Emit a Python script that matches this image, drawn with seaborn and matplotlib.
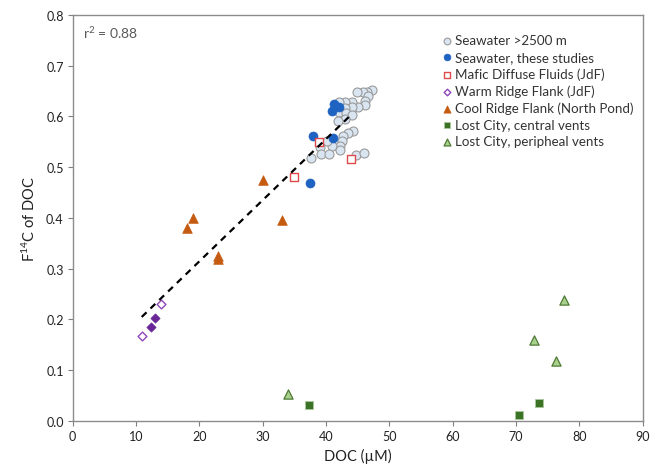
import matplotlib
matplotlib.use("Agg")
import matplotlib.pyplot as plt
import numpy as np
import pandas as pd
import seaborn as sns

# --- data ---
sw_deep_doc = [47.3, 46.4, 45.9, 44.9, 46.7, 46.2, 46.2, 45.1, 44.1, 43.0, 42.1, 44.1,
               43.0, 42.1, 43.2, 44.1, 43.0, 41.9, 44.3, 43.5, 42.7, 42.6, 42.2, 40.9,
               40.1, 39.1, 39.2, 40.5, 37.7, 42.2, 44.8, 46.0]
sw_deep_f14c = [0.653, 0.648, 0.648, 0.649, 0.640, 0.631, 0.623, 0.618, 0.628, 0.628,
                0.628, 0.618, 0.616, 0.608, 0.607, 0.602, 0.595, 0.592, 0.572, 0.567,
                0.562, 0.552, 0.542, 0.542, 0.552, 0.539, 0.526, 0.526, 0.518, 0.533,
                0.524, 0.528]

sw_study_doc = [41.2, 42.1, 40.9, 38.0, 41.1, 37.5]
sw_study_f14c = [0.625, 0.618, 0.611, 0.562, 0.557, 0.468]

mafic_doc = [38.9, 43.9, 34.9]
mafic_f14c = [0.550, 0.516, 0.481]

warm_open_doc = [11.0, 14.0]
warm_open_f14c = [0.167, 0.230]
warm_fill_doc = [12.3, 13.0]
warm_fill_f14c = [0.186, 0.203]

cool_doc = [30.0, 19.0, 18.0, 23.0, 23.0, 33.0]
cool_f14c = [0.475, 0.400, 0.380, 0.326, 0.319, 0.396]

lc_central_doc = [37.3, 70.5, 73.7]
lc_central_f14c = [0.032, 0.012, 0.035]

lc_periph_doc = [34.0, 77.5, 72.9, 76.3]
lc_periph_f14c = [0.053, 0.238, 0.160, 0.118]

fit_doc = [10.9, 44.1]
fit_f14c = [0.205, 0.605]

sns.set_theme(style="white")
plt.rcParams["font.family"] = ["Lato", "DejaVu Sans"]
plt.rcParams["mathtext.default"] = "regular"

fig = plt.figure(figsize=(6.53, 4.77), dpi=100)
ax = fig.add_axes([0.1113, 0.1153, 0.8729, 0.8512])

sns.lineplot(x=fit_doc, y=fit_f14c, ax=ax, color="black", linestyle=(0, (3, 2.5)),
             linewidth=1.6, legend=False)

sns.scatterplot(x=sw_deep_doc, y=sw_deep_f14c, ax=ax, marker="o", s=42,
                color="#DAE5F2", edgecolor="#9A9A9A", linewidth=0.8,
                label="Seawater >2500 m")
sns.scatterplot(x=sw_study_doc, y=sw_study_f14c, ax=ax, marker="o", s=42,
                color="#1F63C2", edgecolor="#1F63C2", linewidth=0.5,
                label="Seawater, these studies")
sns.scatterplot(x=mafic_doc, y=mafic_f14c, ax=ax, marker="s", s=36,
                facecolor="white", edgecolor="#E0494B", linewidth=1.0,
                label="Mafic Diffuse Fluids (JdF)")
sns.scatterplot(x=warm_open_doc, y=warm_open_f14c, ax=ax, marker="D", s=20,
                facecolor="white", edgecolor="#8E47B8", linewidth=1.0,
                label="Warm Ridge Flank (JdF)")
sns.scatterplot(x=warm_fill_doc, y=warm_fill_f14c, ax=ax, marker="D", s=22,
                color="#6A2596", edgecolor="#6A2596", linewidth=0.5, legend=False)
sns.scatterplot(x=cool_doc, y=cool_f14c, ax=ax, marker="^", s=48,
                color="#C55A11", edgecolor="#C55A11", linewidth=0.5,
                label="Cool Ridge Flank (North Pond)")
sns.scatterplot(x=lc_central_doc, y=lc_central_f14c, ax=ax, marker="s", s=38,
                color="#3B7226", edgecolor="#A9C89A", linewidth=0.6,
                label="Lost City, central vents")
sns.scatterplot(x=lc_periph_doc, y=lc_periph_f14c, ax=ax, marker="^", s=44,
                color="#A9D18E", edgecolor="#4E7A34", linewidth=0.9,
                label="Lost City, peripheal vents")

ax.set_xlim(0, 90)
ax.set_ylim(0, 0.8)
ax.set_xticks(np.arange(0, 91, 10))
ax.set_yticks(np.arange(0, 0.81, 0.1))
ax.set_yticklabels([f"{v:.1f}" for v in np.arange(0, 0.81, 0.1)])
ax.tick_params(axis="both", direction="out", length=3.5, width=0.8, color="#808080",
               labelsize=9, labelcolor="#222222", pad=3, bottom=True, left=True)
for sp in ax.spines.values():
    sp.set_color("#8C8C8C")
    sp.set_linewidth(1.0)

ax.set_xlabel("DOC (µM)", fontsize=10.5, color="#222222", labelpad=4)
ax.set_ylabel("F$^{14}$C of DOC", fontsize=10.5, color="#222222", labelpad=6)

ax.text(0.018, 0.977, "r$^2$ = 0.88", transform=ax.transAxes, ha="left", va="top",
        fontsize=10, color="#595959")

leg = ax.legend(loc="upper right", bbox_to_anchor=(1.0, 0.975), frameon=False,
                fontsize=9.6, labelspacing=0.34, handletextpad=0.1, handlelength=1.0,
                borderaxespad=0.3, markerscale=0.75)
for t in leg.get_texts():
    t.set_color("#333333")

fig.savefig("out.png", dpi=100)
